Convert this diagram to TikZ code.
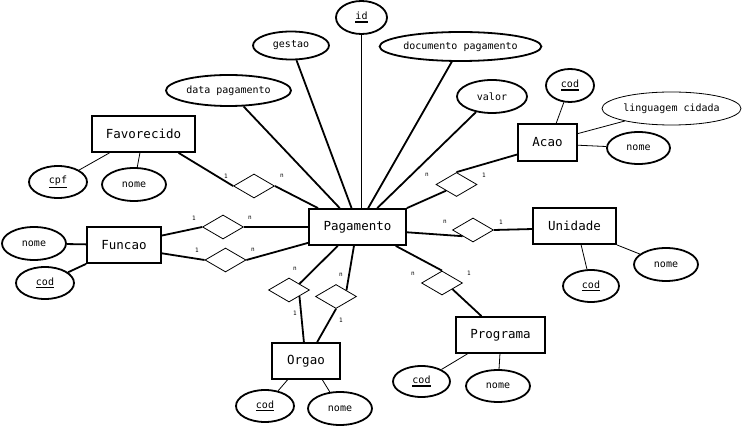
\documentclass[tikz,border=0pt]{standalone}
\usepackage{fontspec}
\setmainfont{DejaVu Sans Mono}
\usetikzlibrary{shapes.geometric,calc}
\newcommand\keyattr[1]{\vtop{\hbox{#1}\kern1.2pt\hrule height 1.4pt}}
\begin{document}
\begin{tikzpicture}[x=1pt,y=-1pt,
 entity/.style={draw,line width=1.8pt,rectangle,inner sep=0pt,minimum height=36pt,font=\fontsize{12.5}{14}\selectfont},
 attr/.style={draw,line width=1.8pt,ellipse,inner sep=0pt,font=\fontsize{10}{12}\selectfont},
 attrthin/.style={attr,line width=0.8pt},
 rel/.style={draw,line width=0.8pt,diamond,inner sep=0pt,minimum width=41pt,minimum height=24pt},
 card/.style={inner sep=0pt,font=\fontsize{6}{7}\selectfont},
 lnthick/.style={line width=1.8pt},
 lnthin/.style={line width=0.8pt}]
\useasboundingbox (0,0) rectangle (742,427);

% entities
\node[entity,minimum width=103pt] (fav) at (143.5,134) {Favorecido};
\node[entity,minimum width=74pt] (fun) at (124,245) {Funcao};
\node[entity,minimum width=97pt] (pag) at (357.5,227) {Pagamento};
\node[entity,minimum width=59pt,minimum height=37pt] (acao) at (547.5,142.5) {Acao};
\node[entity,minimum width=83pt] (uni) at (574.5,226) {Unidade};
\node[entity,minimum width=89pt] (prog) at (500.5,335) {Programa};
\node[entity,minimum width=68pt] (org) at (306,361) {Orgao};

% attributes
\node[attr,minimum width=51pt,minimum height=33pt] (id) at (361.5,17.5) {\keyattr{id}};
\node[attr,minimum width=76pt,minimum height=28pt] (gestao) at (291,45.5) {gestao};
\node[attr,minimum width=155pt,minimum height=29pt] (doc) at (460.5,46.5) {documento pagamento};
\node[attr,minimum width=70pt,minimum height=33pt] (valor) at (492,96.5) {valor};
\node[attr,minimum width=125pt,minimum height=31pt] (data) at (228.5,90.5) {data pagamento};
\node[attr,minimum width=48pt,minimum height=33pt] (acod) at (570,85.5) {\keyattr{cod}};
\node[attrthin,minimum width=139pt,minimum height=33pt] (ling) at (671.5,108.5) {linguagem cidada};
\node[attr,minimum width=63pt,minimum height=32pt] (anome) at (638.5,148) {nome};
\node[attr,minimum width=64pt,minimum height=33pt] (unome) at (666,264.5) {nome};
\node[attr,minimum width=56pt,minimum height=32pt] (ucod) at (591,286) {\keyattr{cod}};
\node[attr,minimum width=57pt,minimum height=31pt] (pcod) at (421.5,381.5) {\keyattr{cod}};
\node[attr,minimum width=64pt,minimum height=32pt] (pnome) at (498,386) {nome};
\node[attr,minimum width=58pt,minimum height=32pt] (ocod) at (265,406) {\keyattr{cod}};
\node[attr,minimum width=64pt,minimum height=33pt] (onome) at (340,408.5) {nome};
\node[attr,minimum width=58pt,minimum height=32pt] (cpf) at (58,182) {\keyattr{cpf}};
\node[attr,minimum width=64pt,minimum height=33pt] (fnome) at (134,184.5) {nome};
\node[attr,minimum width=64pt,minimum height=33pt] (funnome) at (34,243.5) {nome};
\node[attr,minimum width=58pt,minimum height=32pt] (funcod) at (45,283) {\keyattr{cod}};

% relationships
\node[rel] (d1) at (254,186) {};
\node[rel] (d2) at (223,227) {};
\node[rel] (d3) at (225.5,260) {};
\node[rel] (dacao) at (456.5,184.5) {};
\node[rel] (duni) at (473,230) {};
\node[rel] (dprog) at (442,283) {};
\node[rel] (dorg1) at (289,290) {};
\node[rel] (dorg2) at (336,296.5) {};

% cardinalities
\node[card] (c1a) at (226,176) {1};
\node[card] (c1b) at (282,176) {n};
\node[card] (c2a) at (194,218) {1};
\node[card] (c2b) at (250,218) {n};
\node[card] (c3a) at (197,250) {1};
\node[card] (c3b) at (253,250) {n};
\node[card] (cacn) at (427,175) {n};
\node[card] (cac1) at (484,175) {1};
\node[card] (cunn) at (445,222) {n};
\node[card] (cun1) at (501,222) {1};
\node[card] (cprn) at (413,274) {n};
\node[card] (cpr1) at (469,273) {1};
\node[card] (co1n) at (295,269) {n};
\node[card] (co11) at (295,313) {1};
\node[card] (co2n) at (341,275) {n};
\node[card] (co21) at (341,320) {1};

% relationship connectors
\draw[lnthick] ($(fav.south west)!0.835!(fav.south east)$) -- (d1.west);
\draw[lnthick] (d1.east) -- ($(pag.north west)!0.1!(pag.north east)$);
\draw[lnthick] ($(fun.north east)!0.25!(fun.south east)$) -- (d2.west);
\draw[lnthick] (d2.east) -- (pag.west);
\draw[lnthick] ($(fun.north east)!0.72!(fun.south east)$) -- (d3.west);
\draw[lnthick] (d3.east) -- ($(pag.north west)!0.92!(pag.south west)$);
\draw[lnthick] (pag.north east) -- (dacao.south west);
\draw[lnthick] (dacao.north) -- ($(acao.north west)!0.81!(acao.south west)$);
\draw[lnthick] ($(pag.north east)!0.64!(pag.south east)$) -- (duni.south west);
\draw[lnthick] (duni.east) -- ($(uni.north west)!0.58!(uni.south west)$);
\draw[lnthick] ($(pag.south west)!0.887!(pag.south east)$) -- (dprog.north);
\draw[lnthick] (dprog.south east) -- ($(prog.north west)!0.29!(prog.north east)$);
\draw[lnthick] ($(pag.south west)!0.30!(pag.south east)$) -- (dorg1.north east);
\draw[lnthick] (dorg1.south east) -- ($(org.north west)!0.47!(org.north east)$);
\draw[lnthick] ($(pag.south west)!0.464!(pag.south east)$) -- (dorg2.north east);
\draw[lnthick] (dorg2.south) -- ($(org.north west)!0.66!(org.north east)$);

% Pagamento attributes
\draw[lnthick] (data) -- ($(pag.north west)!0.32!(pag.north east)$);
\draw[lnthick] (gestao) -- ($(pag.north west)!0.44!(pag.north east)$);
\draw[lnthick] (id) -- (id |- pag.north);
\draw[lnthick] (doc) -- ($(pag.north west)!0.608!(pag.north east)$);
\draw[lnthick] (valor) -- ($(pag.north west)!0.70!(pag.north east)$);

% entity attributes
\draw[lnthin] ($(fav.south west)!0.175!(fav.south east)$) -- (cpf);
\draw[lnthin] ($(fav.south west)!0.466!(fav.south east)$) -- (fnome);
\draw[lnthick] (funnome) -- (fun);
\draw[lnthick] (fun.south west) -- (funcod);
\draw[lnthin] ($(acao.north west)!0.644!(acao.north east)$) -- (acod);
\draw[lnthin] ($(acao.north east)!0.27!(acao.south east)$) -- (ling);
\draw[lnthin] ($(acao.north east)!0.57!(acao.south east)$) -- (anome);
\draw[lnthin] (uni.south east) -- (unome);
\draw[lnthin] ($(uni.south west)!0.578!(uni.south east)$) -- (ucod);
\draw[lnthin] ($(prog.south west)!0.135!(prog.south east)$) -- (pcod);
\draw[lnthin] ($(prog.south west)!0.494!(prog.south east)$) -- (pnome);
\draw[lnthin] ($(org.south west)!0.235!(org.south east)$) -- (ocod);
\draw[lnthin] ($(org.south west)!0.735!(org.south east)$) -- (onome);
\end{tikzpicture}
\end{document}
